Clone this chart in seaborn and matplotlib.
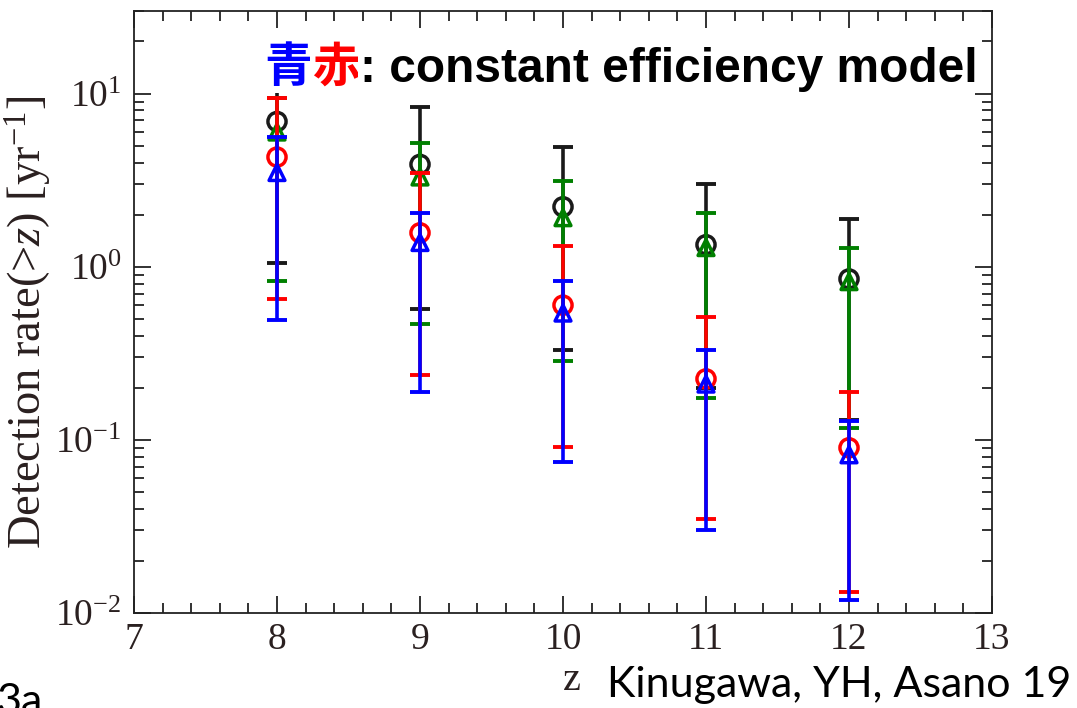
import numpy as np
import pandas as pd
import matplotlib
matplotlib.use('Agg')
import matplotlib.pyplot as plt
import seaborn as sns
from matplotlib.ticker import FixedLocator, MultipleLocator, LogLocator, NullFormatter

# ---------------- data ----------------
z = [8, 9, 10, 11, 12]

black_val = [6.9, 3.9, 2.22, 1.34, 0.85]
black_hi = [11.1, 8.4, 4.9, 3.0, 1.89]
black_lo = [1.05, 0.57, 0.33, 0.20, 0.13]

green_val = [6.0, 3.3, 1.92, 1.29, 0.82]
green_hi = [9.4, 5.2, 3.14, 2.05, 1.29]
green_lo = [0.83, 0.47, 0.286, 0.175, 0.117]

red_val = [4.3, 1.57, 0.60, 0.225, 0.090]
red_hi = [9.4, 3.5, 1.31, 0.51, 0.19]
red_lo = [0.65, 0.238, 0.091, 0.035, 0.0132]

blue_val = [3.5, 1.38, 0.54, 0.21, 0.082]
blue_hi = [5.6, 2.05, 0.83, 0.33, 0.129]
blue_lo = [0.49, 0.19, 0.0746, 0.030, 0.0119]

x_ticks = [7, 8, 9, 10, 11, 12, 13]

title_blue = '青'
title_red = '赤'
title_black = ': constant efficiency model'
x_label = 'z'
y_label = r'Detection rate(>$z$) [yr$^{\mathrm{-1}}$]'
credit = 'Kinugawa, YH, Asano 19'
corner = '3a'

# ---------------- style ----------------
sns.set_theme(style='ticks')
plt.rcParams['font.family'] = ['Liberation Serif', 'DejaVu Serif']
plt.rcParams['mathtext.fontset'] = 'custom'
plt.rcParams['mathtext.rm'] = 'Liberation Serif'
plt.rcParams['mathtext.it'] = 'Liberation Serif:italic'
plt.rcParams['mathtext.bf'] = 'Liberation Serif:bold'
plt.rcParams['axes.unicode_minus'] = False

fig = plt.figure(figsize=(10.77, 7.08), dpi=100)
ax = fig.add_axes([134 / 1077, 1 - 613 / 708, 858 / 1077, 602 / 708])
ax.set_facecolor('white')

series = [
    ('black', '#1a1a1a', 'o', black_val, black_lo, black_hi),
    ('green', '#008000', '^', green_val, green_lo, green_hi),
    ('red', '#ff0000', 'o', red_val, red_lo, red_hi),
    ('blue', '#0000ff', '^', blue_val, blue_lo, blue_hi),
]

for i, (name, col, mk, val, lo, hi) in enumerate(series):
    val = np.array(val)
    yerr = np.vstack([val - np.array(lo), np.array(hi) - val])
    ax.errorbar(z, val, yerr=yerr, fmt='none', ecolor=col, elinewidth=2.6,
                capsize=7.5, capthick=2.8, zorder=2 + i)
    df = pd.DataFrame({'z': z, 'rate': val})
    size = 170 if mk == 'o' else 130
    sns.scatterplot(data=df, x='z', y='rate', marker=mk, s=size, ax=ax,
                    color=col, linewidth=2.5, zorder=2.5 + i, legend=False)
    coll = ax.collections[-1]
    coll.set_facecolor('none')
    coll.set_edgecolor(col)

ax.set_yscale('log')
ax.set_xlim(7, 13)
ax.set_ylim(1e-2, 30)
ax.xaxis.set_major_locator(FixedLocator(x_ticks))
ax.xaxis.set_minor_locator(MultipleLocator(0.2))
ax.yaxis.set_major_locator(LogLocator(base=10, numticks=10))
ax.yaxis.set_minor_locator(LogLocator(base=10, subs=np.arange(2, 10), numticks=20))
ax.yaxis.set_minor_formatter(NullFormatter())

ax.tick_params(which='both', direction='in', top=True, right=True,
               color='#222222', width=1.3)
ax.tick_params(which='major', length=12.5, labelsize=27, pad=7,
               labelcolor='#2a2020')
ax.tick_params(which='minor', length=7)
ax.tick_params(axis='y', which='major', pad=9)
for sp in ax.spines.values():
    sp.set_linewidth(1.3)
    sp.set_color('#222222')

ax.set_xlabel(x_label, fontsize=29, color='#2a2020')
ax.xaxis.set_label_coords((572 - 134) / 858, (613 - 662) / 602)
ax.set_ylabel(y_label, fontsize=33.5, color='#2a2020')
ax.yaxis.set_label_coords((54 - 134) / 858, (613 - 322) / 602)

# ---------------- title inside the axes ----------------
tfam = ['Liberation Sans', 'Noto Sans CJK JP']
tsize = 34.5
t1 = ax.text((264 - 134) / 858, (613 - 82) / 602, title_blue, transform=ax.transAxes,
             color='#0000ff', fontsize=tsize, fontweight='bold', family=tfam,
             ha='left', va='baseline', zorder=20,
             bbox=dict(facecolor='white', edgecolor='none', pad=1))
t2 = ax.annotate(title_red, xy=(1, 0), xycoords=t1, ha='left', va='bottom',
                 color='#ff0000', fontsize=tsize, fontweight='bold', family=tfam,
                 zorder=20, bbox=dict(facecolor='white', edgecolor='none', pad=1))
t3 = ax.annotate(title_black, xy=(1, 0), xycoords=t2, ha='left', va='bottom',
                 color='black', fontsize=tsize, fontweight='bold', family=tfam,
                 zorder=20, bbox=dict(facecolor='white', edgecolor='none', pad=1))

# ---------------- slide annotations ----------------
fig.text(607 / 1077, 1 - 697 / 708, credit, family='Lato', fontsize=31,
         color='black', ha='left', va='baseline')
fig.text(-4 / 1077, 1 - 714 / 708, corner, family='Lato', fontsize=31,
         color='black', ha='left', va='baseline')

fig.savefig('out.png', dpi=100, facecolor='white')
